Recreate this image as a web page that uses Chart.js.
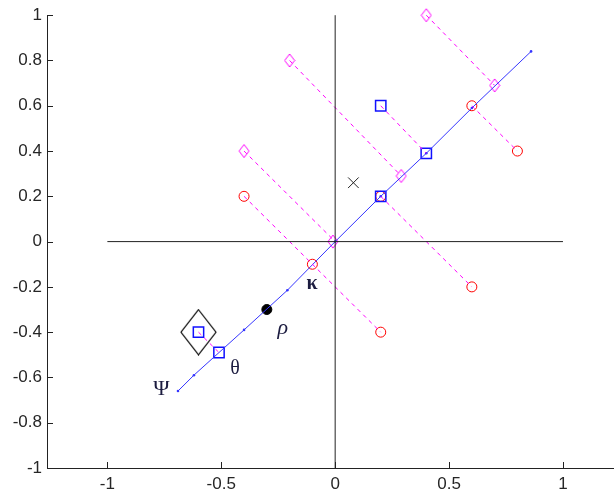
<!DOCTYPE html>
<html><head><meta charset="utf-8">
<script src="https://cdn.jsdelivr.net/npm/chart.js@4.4.0/dist/chart.umd.min.js"></script>
<style>html,body{margin:0;padding:0;background:#fff;overflow:hidden}</style>
</head><body><canvas id="c" width="614" height="492"></canvas>
<script>
// ---- data ----
const xTickValues = [-1, -0.5, 0, 0.5, 1];
const xTickLabels = ['-1', '-0.5', '0', '0.5', '1'];
const yTickValues = [-1, -0.8, -0.6, -0.4, -0.2, 0, 0.2, 0.4, 0.6, 0.8, 1];
const yTickLabels = ['-1', '-0.8', '-0.6', '-0.4', '-0.2', '0', '0.2', '0.4', '0.6', '0.8', '1'];

// black reference axes through the origin
const hAxisX = [-1, 1];
const hAxisY = [0, 0];
const vAxisX = [0, 0];
const vAxisY = [-1, 1];

// blue fitted line
const lineX = [-0.69, -0.62, -0.40, -0.21, 0.0, 0.2, 0.4, 0.6, 0.86];
const lineY = [-0.66, -0.59, -0.39, -0.215, 0.0, 0.2, 0.39, 0.59, 0.84];

// red circles
const circleX = [-0.4, 0.6, 0.8, 0.2, -0.1, 0.6, 0.2];
const circleY = [0.2, 0.6, 0.4, 0.2, -0.1, -0.2, -0.4];

// magenta diamonds
const diamondX = [0.4, -0.2, -0.4, 0.7, 0.29, -0.01];
const diamondY = [1.0, 0.8, 0.4, 0.69, 0.29, 0.0];

// blue squares
const squareX = [0.2, 0.4, 0.2, -0.6, -0.51];
const squareY = [0.6, 0.39, 0.2, -0.4, -0.49];

// single marks
const crossX = [0.08];
const crossY = [0.26];
const dotX = [-0.3];
const dotY = [-0.3];
const bigDiamondX = [-0.6];
const bigDiamondY = [-0.4];

// magenta dashed projection segments (start -> end)
const segStartX = [0.4, -0.2, -0.4, 0.6, 0.2, 0.2, -0.4, -0.6];
const segStartY = [1.0, 0.8, 0.4, 0.6, 0.6, 0.2, 0.2, -0.4];
const segEndX = [0.7, 0.29, 0.0, 0.8, 0.4, 0.6, 0.2, -0.51];
const segEndY = [0.69, 0.29, 0.0, 0.4, 0.39, -0.2, -0.4, -0.49];

// greek annotations
const greekText = ['\u03BA', '\u03C1', '\u03B8', '\u03A8'];
const greekX = [-0.101, -0.23, -0.439, -0.763];
const greekY = [-0.185, -0.383, -0.562, -0.65];
const greekFont = ['bold 20px "Liberation Serif"', 'italic 22px "Liberation Serif"', '20px "Liberation Serif"', '22px "Liberation Serif"'];

// ---- helpers ----
const pts = (xs, ys) => xs.map((v, i) => ({x: v, y: ys[i]}));
function diamondImg(w, h, color, lw) {
  const c = document.createElement('canvas');
  c.width = w + 2; c.height = h + 2;
  const g = c.getContext('2d');
  g.strokeStyle = color; g.lineWidth = lw;
  const cx = c.width / 2, cy = c.height / 2;
  g.beginPath();
  g.moveTo(cx, cy - h / 2); g.lineTo(cx + w / 2, cy); g.lineTo(cx, cy + h / 2); g.lineTo(cx - w / 2, cy); g.closePath();
  g.stroke();
  return c;
}
const smallDiamond = diamondImg(10, 13, '#ff00ff', 1);
const largeDiamond = diamondImg(35, 45, '#000000', 1.2);

// all dashed segments in one dataset, separated by gaps
const segData = [];
segStartX.forEach((v, i) => {
  segData.push({x: segStartX[i], y: segStartY[i]}, {x: segEndX[i], y: segEndY[i]}, {x: NaN, y: NaN});
});

const datasets = [];
datasets.push({data: pts(hAxisX, hAxisY), showLine: true, borderColor: '#222', borderWidth: 1, pointRadius: 0});
datasets.push({data: pts(vAxisX, vAxisY), showLine: true, borderColor: '#222', borderWidth: 1, pointRadius: 0});
datasets.push({data: segData, showLine: true, spanGaps: false, borderColor: '#ff00ff', backgroundColor: '#ff00ff',
  borderWidth: 1, borderDash: [4, 4], pointRadius: 0});
datasets.push({data: pts(lineX, lineY), showLine: true, borderColor: '#3535ff', borderWidth: 1,
  pointRadius: 1.3, pointBackgroundColor: '#3535ff', pointBorderWidth: 0});
datasets.push({data: pts(squareX, squareY), pointStyle: 'rect', pointRadius: 7.3, borderColor: '#1010ff',
  backgroundColor: 'rgba(0,0,0,0)', pointBorderWidth: 1.5});
datasets.push({data: pts(circleX, circleY), pointStyle: 'circle', pointRadius: 5, borderColor: '#ff0000',
  backgroundColor: 'rgba(0,0,0,0)', pointBorderWidth: 1});
datasets.push({data: pts(diamondX, diamondY), pointStyle: smallDiamond});
datasets.push({data: pts(bigDiamondX, bigDiamondY), pointStyle: largeDiamond});
datasets.push({data: pts(crossX, crossY), pointStyle: 'crossRot', pointRadius: 7.5, borderColor: '#222', pointBorderWidth: 1});
datasets.push({data: pts(dotX, dotY), pointStyle: 'circle', pointRadius: 5, borderColor: '#000', backgroundColor: '#000'});
datasets.forEach(d => { d.clip = false; });

const extras = {
  id: 'extras',
  afterDatasetsDraw(chart) {
    const {ctx, chartArea: a} = chart;
    const x = chart.scales.x, y = chart.scales.y;
    ctx.save();
    ctx.strokeStyle = '#222'; ctx.lineWidth = 1;
    ctx.beginPath();
    xTickValues.forEach(v => { const p = Math.round(x.getPixelForValue(v)) + 0.5; ctx.moveTo(p, a.bottom); ctx.lineTo(p, a.bottom - 6); });
    yTickValues.forEach(v => { const p = Math.round(y.getPixelForValue(v)) + 0.5; ctx.moveTo(a.left, p); ctx.lineTo(a.left + 6, p); });
    ctx.stroke();
    // x tick labels
    ctx.fillStyle = '#262626';
    ctx.font = '17px "Liberation Sans", Arial, sans-serif';
    ctx.textAlign = 'center'; ctx.textBaseline = 'alphabetic';
    xTickValues.forEach((v, i) => ctx.fillText(xTickLabels[i], x.getPixelForValue(v), a.bottom + 21));
    // greek annotations
    ctx.fillStyle = '#1c1c40';
    ctx.textAlign = 'center'; ctx.textBaseline = 'middle';
    greekText.forEach((t, i) => {
      ctx.font = greekFont[i];
      ctx.fillText(t, x.getPixelForValue(greekX[i]), y.getPixelForValue(greekY[i]));
    });
    ctx.restore();
  }
};

new Chart(document.getElementById('c'), {
  type: 'scatter',
  data: {datasets},
  options: {
    responsive: false, animation: false, events: [],
    layout: {autoPadding: false, padding: {top: 14, right: 0, bottom: 0, left: 0}},
    plugins: {legend: {display: false}, tooltip: {enabled: false}},
    scales: {
      x: {
        type: 'linear', min: -1.265, max: 1.224,
        afterBuildTicks: s => { s.ticks = xTickValues.map(v => ({value: v})); },
        afterFit: s => { s.height = 24; },
        grid: {display: false, drawTicks: false},
        border: {display: true, color: '#222', width: 1},
        ticks: {display: false}
      },
      y: {
        type: 'linear', min: -1, max: 1,
        afterBuildTicks: s => { s.ticks = yTickValues.map(v => ({value: v})); },
        afterFit: s => { s.width = 47; },
        grid: {display: false, drawTicks: false},
        border: {display: true, color: '#222', width: 1},
        ticks: {padding: 5, color: '#262626', font: {family: '"Liberation Sans", Arial, sans-serif', size: 17},
          callback: (v, i) => yTickLabels[i], autoSkip: false}
      }
    }
  },
  plugins: [extras]
});
</script>
</body></html>
